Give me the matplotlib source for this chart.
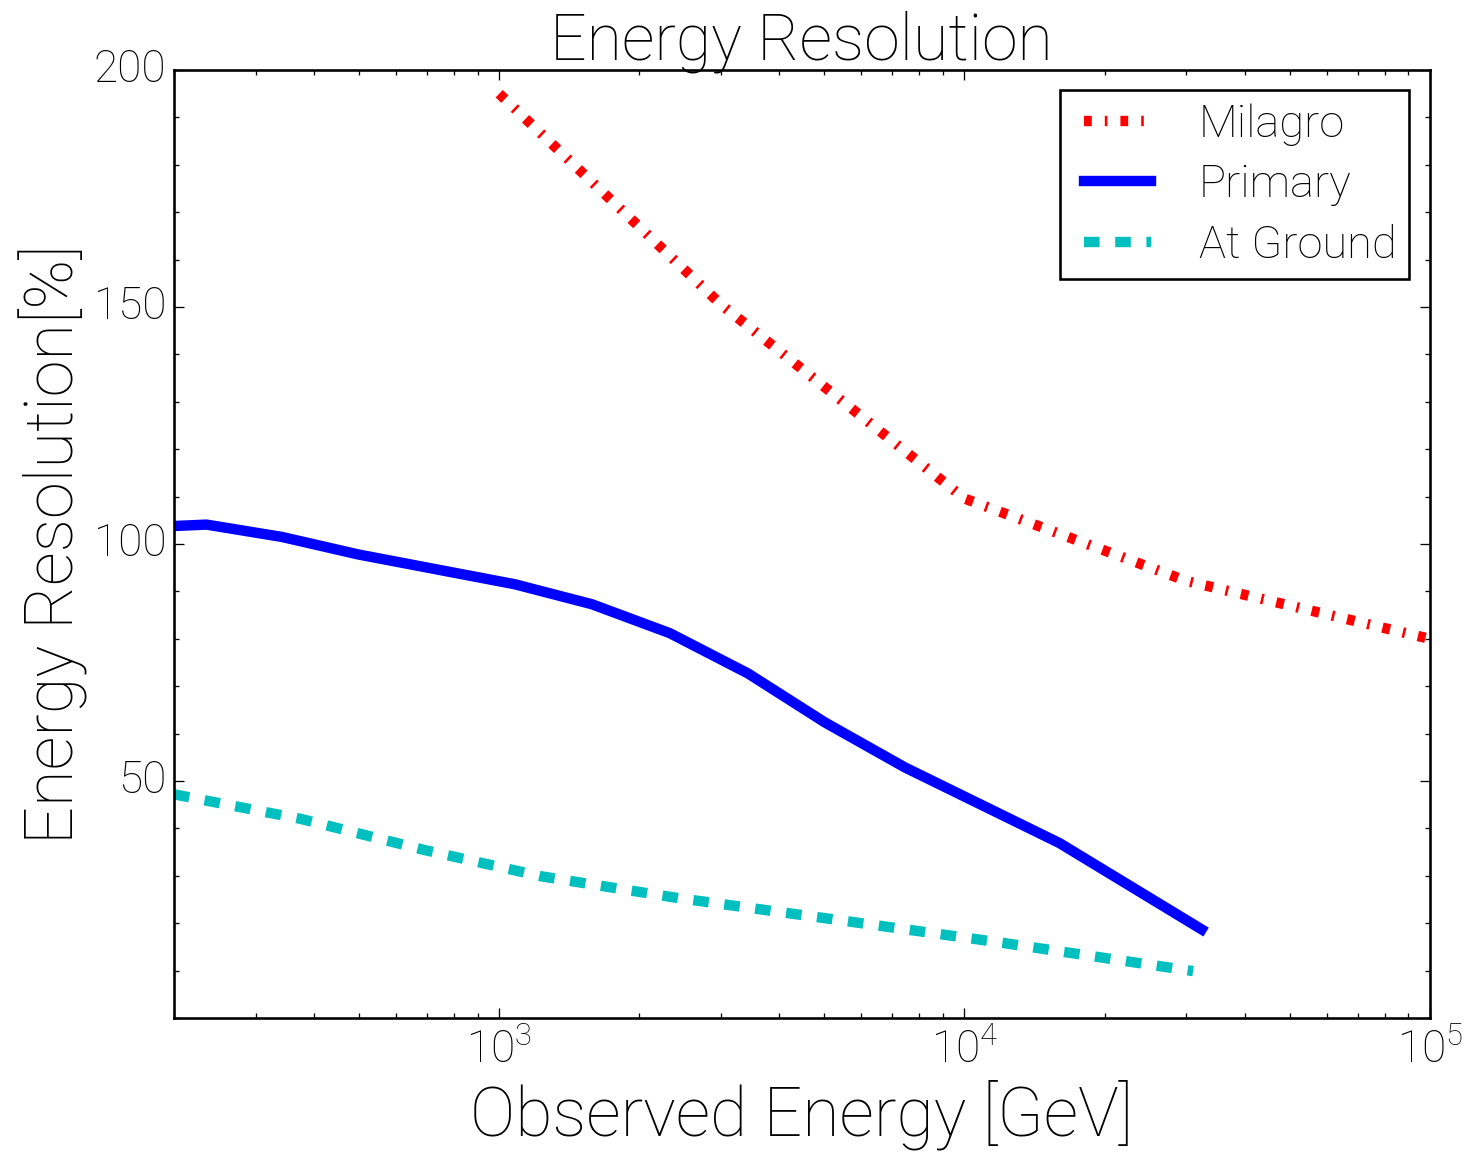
import matplotlib
matplotlib.use("Agg")
import matplotlib.pyplot as plt
from matplotlib.legend_handler import HandlerLine2D
from matplotlib.lines import Line2D
from matplotlib.ticker import MultipleLocator

plt.style.use("classic")
plt.rcParams["font.family"] = ["Roboto", "DejaVu Sans"]
plt.rcParams["font.weight"] = "light"
plt.rcParams["axes.titleweight"] = "light"
plt.rcParams["axes.labelweight"] = "light"
plt.rcParams["mathtext.default"] = "regular"

# --------------------------------------------------------------------------- #
#  Resolution curves (energy in GeV, resolution in %)
# --------------------------------------------------------------------------- #

milagro_energy = [1000, 3000, 10000, 30000, 100000]
milagro_res = [195.0, 150.5, 109.6, 92.2, 80.0]

primary_energy = [200, 235, 341, 498, 1082, 1582, 2326, 3426, 5006, 7438, 16008, 32340]
primary_res = [103.8, 104.1, 101.5, 97.8, 91.5, 87.3, 81.2, 72.7, 62.4, 52.9, 36.9, 18.7]

ground_energy = [200, 375, 694, 1231, 2427, 5713, 12000, 31000]
ground_res = [47.2, 42.0, 35.4, 29.9, 25.3, 20.3, 15.9, 9.9]

y_ticks = [50, 100, 150, 200]

DPI = 187.2
fig = plt.figure(figsize=(1474 / DPI, 1152 / DPI), dpi=DPI, facecolor="white")
ax = fig.add_axes([0.118, 0.1163, 0.852, 0.8229])

ax.plot(milagro_energy, milagro_res, "r-.", lw=4, label="Milagro")
ax.plot(primary_energy, primary_res, "b-", lw=4, label="Primary")
ax.plot(ground_energy, ground_res, "c--", lw=4, label="At Ground")

ax.set_xscale("log")
ax.set_xlim(200, 1e5)
ax.set_ylim(0, 200)
ax.set_yticks(y_ticks)
ax.yaxis.set_minor_locator(MultipleLocator(10))
ax.tick_params(labelsize=17, pad=4)
ax.tick_params(axis="y", pad=3)

ax.set_title("Energy Resolution", fontsize=24.8, pad=4)
ax.set_xlabel("Observed Energy [GeV]", fontsize=26.2, labelpad=3)
ax.set_ylabel("Energy Resolution[%]", fontsize=25.7, labelpad=2)

# handles get some blank room on their left so the frame sits wider
leg = ax.legend(loc="upper right", fontsize=17.4, handlelength=1.72,
                handletextpad=1.07, borderaxespad=0.45, borderpad=0.28,
                labelspacing=0.4, numpoints=1,
                handler_map={Line2D: HandlerLine2D(xpad=0.25)})
leg.get_frame().set_edgecolor("black")

fig.savefig("out.png", dpi=DPI, facecolor="white")
